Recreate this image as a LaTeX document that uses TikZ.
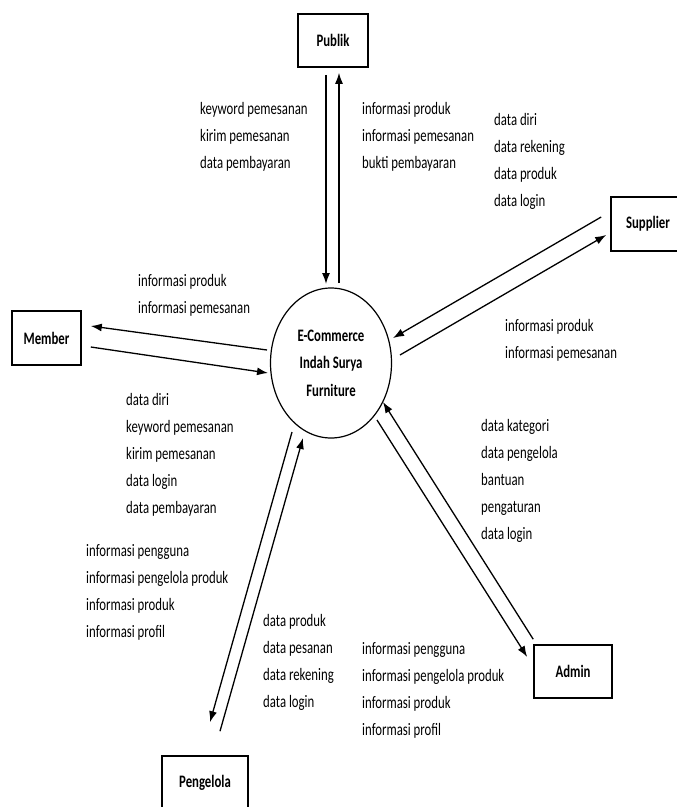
\documentclass[tikz,border=0pt]{standalone}
\usepackage{fontspec}
\setmainfont{Carlito}[FakeStretch=0.73]
\usetikzlibrary{positioning,shapes.geometric,arrows.meta}
\newcommand\dfdfont{\fontsize{17.5}{27}\selectfont}

\begin{document}
\begin{tikzpicture}[x=1pt,y=-1pt,
    ent/.style={draw,line width=1.6pt,minimum height=53pt,font=\dfdfont\bfseries},
    proc/.style={draw,ellipse,line width=1.2pt,minimum width=121pt,minimum height=150pt,align=center,font=\fontsize{17.5}{27.5}\selectfont\bfseries},
    flow/.style={-{Latex[length=11pt,width=8pt]},line width=1.3pt},
    txt/.style={anchor=base west,align=left,inner sep=0pt,font=\dfdfont}]
    \useasboundingbox (0,0) rectangle (677,807);
    \clip (0,0) rectangle (677,807);
    \node[proc] (ecom) at (331,363) {E-Commerce\\Indah Surya\\Furniture};
    \node[ent,minimum width=70pt] (publik) at (333,40.5) {Publik};
    \node[ent,minimum width=69pt,minimum height=54pt] (member) at (46.5,338) {Member};
    \node[ent,minimum width=74pt,minimum height=54pt] (supplier) at (648,224) {Supplier};
    \node[ent,minimum width=78pt] (admin) at (573,671.5) {Admin};
    \node[ent,minimum width=86pt] (pengelola) at (205,782.5) {Pengelola};
    \draw[flow] ([shift={(-7,7)}]publik.south) -- ([shift={(-5,-79)}]ecom.center);
    \draw[flow] ([shift={(8,-80)}]ecom.center) -- ([shift={(6,5)}]publik.south);
    \draw[flow] ([shift={(-64,-13)}]ecom.center) -- ([shift={(9,-12)}]member.east);
    \draw[flow] ([shift={(9,9)}]member.east) -- ([shift={(-63,10)}]ecom.center);
    \draw[flow] ([shift={(-9,-7)}]supplier.west) -- ([shift={(62,-25)}]ecom.center);
    \draw[flow] ([shift={(69,-8)}]ecom.center) -- ([shift={(-4,11)}]supplier.west);
    \draw[flow] ([shift={(46,57)}]ecom.center) -- ([shift={(-6,-14.5)}]admin.west);
    \draw[flow] ([shift={(0,-5)}]admin.north west) -- ([shift={(52,39)}]ecom.center);
    \draw[flow] ([shift={(-39,69)}]ecom.center) -- ([shift={(5,-33)}]pengelola.north);
    \draw[flow] ([shift={(15,-24)}]pengelola.north) -- ([shift={(-28,75)}]ecom.center);
    \node[txt] (publikin) at (200,168) {keyword pemesanan\\kirim pemesanan\\data pembayaran};
    \node[txt] (publikout) at (362,168) {informasi produk\\informasi pemesanan\\bukti pembayaran};
    \node[txt] (memberout) at (138,313) {informasi produk\\informasi pemesanan};
    \node[txt] (memberin) at (126,513) {data diri\\keyword pemesanan\\kirim pemesanan\\data login\\data pembayaran};
    \node[txt] (supplierin) at (494,206) {data diri\\data rekening\\data produk\\data login};
    \node[txt] (supplierout) at (505,358) {informasi produk\\informasi pemesanan};
    \node[txt] (adminin) at (481,539) {data kategori\\data pengelola\\bantuan\\pengaturan\\data login};
    \node[txt] (adminout) at (362,735) {informasi pengguna\\informasi pengelola produk\\informasi produk\\informasi profil};
    \node[txt] (pengelolaout) at (86,637) {informasi pengguna\\informasi pengelola produk\\informasi produk\\informasi profil};
    \node[txt] (pengelolain) at (263,707) {data produk\\data pesanan\\data rekening\\data login};
\end{tikzpicture}
\end{document}
